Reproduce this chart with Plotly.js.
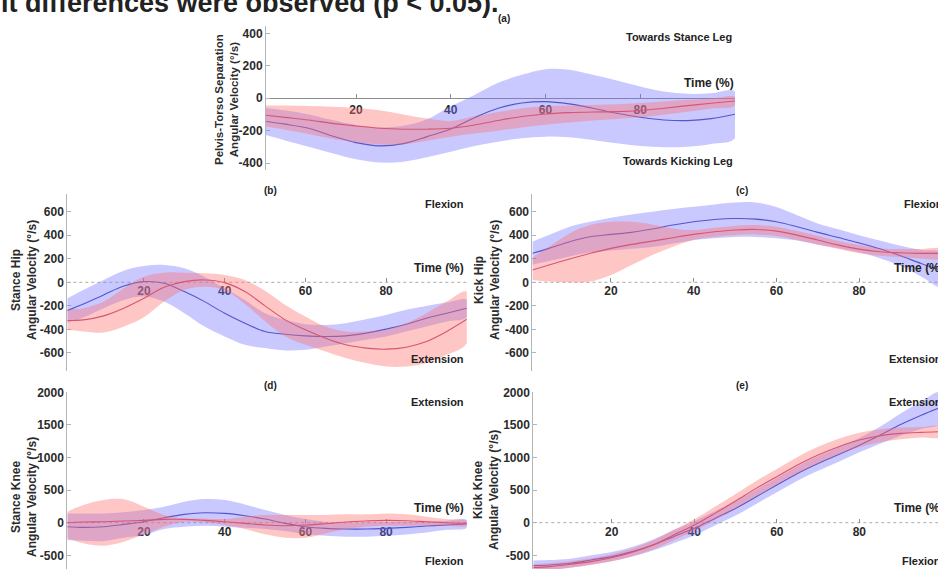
<!DOCTYPE html>
<html>
<head>
<meta charset="utf-8">
<script src="https://cdn.plot.ly/plotly-3.0.1.min.js"></script>
<style>
  html, body { margin: 0; padding: 0; background: #ffffff; overflow: hidden; width: 938px; height: 569px; }
  #chart { width: 950px; height: 600px; }
</style>
</head>
<body>
<div id="chart"></div>
<script>
// ---------- DATA ----------
const timePct = [1, 5, 10, 15, 20, 25, 30, 35, 40, 45, 50, 55, 60, 65, 70, 75, 80, 85, 90, 95, 100];
const xTickVals = [20, 40, 60, 80];
const xTickText = ['20', '40', '60', '80'];

// (a) Pelvis-Torso Separation
const aBlueMean  = [-144, -160, -185, -233, -274, -294, -280, -237, -190, -120, -62, -30, -21, -35, -62, -93, -117, -134, -138, -126, -99];
const aBlueUpper = [-60, -75, -100, -135, -165, -180, -170, -130, -50, 20, 95, 144, 179, 175, 144, 109, 72, 41, 27, 31, 41];
const aBlueLower = [-227, -260, -299, -340, -377, -397, -391, -364, -330, -294, -268, -247, -237, -241, -257, -278, -294, -302, -299, -282, -247];
const aPinkMean  = [-105, -118, -134, -155, -171, -185, -191, -191, -185, -165, -137, -113, -97, -89, -85, -83, -76, -62, -46, -31, -17];
const aPinkUpper = [-45, -45, -48, -52, -60, -75, -100, -125, -140, -112, -85, -62, -50, -45, -42, -38, -30, -20, -10, -2, 8];
const aPinkLower = [-175, -195, -220, -250, -272, -285, -285, -262, -238, -218, -200, -180, -163, -150, -138, -128, -118, -102, -84, -64, -45];
const aTickVals = [-400, -200, 0, 200, 400];
const aTickText = ['-400', '-200', '0', '200', '400'];

// (b) Stance Hip
const bBlueMean  = [-240, -184, -107, -31, 6, -8, -79, -164, -263, -347, -418, -441, -455, -460, -455, -432, -398, -356, -305, -263, -220];
const bBlueUpper = [-136, -65, 20, 99, 138, 147, 119, 48, -51, -150, -263, -319, -356, -362, -347, -314, -277, -234, -201, -172, -150];
const bBlueLower = [-345, -300, -220, -150, -121, -164, -263, -376, -460, -531, -559, -579, -573, -545, -517, -489, -460, -418, -376, -333, -297];
const bPinkMean  = [-325, -319, -285, -220, -136, -42, 6, 20, -3, -79, -200, -319, -404, -475, -531, -559, -568, -551, -503, -418, -314];
const bPinkUpper = [-234, -220, -164, -51, 48, 82, 82, 76, 62, 20, -72, -192, -291, -376, -418, -418, -404, -347, -263, -164, -79];
const bPinkLower = [-404, -418, -427, -376, -297, -164, -65, -37, -65, -184, -330, -460, -531, -588, -644, -686, -715, -715, -686, -616, -517];
const hipTickVals = [-600, -400, -200, 0, 200, 400, 600];
const hipTickText = ['-600', '-400', '-200', '0', '200', '400', '600'];

// (c) Kick Hip
const cBlueMean  = [246, 288, 345, 387, 407, 424, 452, 486, 514, 534, 542, 537, 514, 472, 424, 380, 335, 285, 225, 160, 100];
const cBlueUpper = [345, 401, 472, 514, 548, 576, 599, 622, 641, 661, 678, 678, 640, 570, 500, 450, 400, 355, 310, 275, 250];
const cBlueLower = [150, 180, 220, 255, 270, 285, 300, 330, 360, 375, 385, 385, 375, 355, 320, 290, 255, 205, 140, 50, -40];
const cPinkMean  = [105, 147, 198, 246, 288, 322, 350, 379, 407, 429, 444, 449, 435, 401, 359, 316, 282, 260, 251, 246, 246];
const cPinkUpper = [209, 302, 415, 486, 514, 514, 492, 458, 444, 463, 480, 486, 472, 435, 396, 350, 316, 288, 282, 282, 282];
const cPinkLower = [20, 6, 0, 6, 62, 147, 232, 302, 359, 387, 401, 407, 393, 359, 322, 282, 246, 226, 215, 203, 203];

// (d) Stance Knee
const dBlueMean  = [-61, -72, -61, -26, 15, 77, 128, 153, 143, 107, 56, -10, -61, -87, -97, -97, -87, -72, -51, -36, -20];
const dBlueUpper = [143, 143, 143, 160, 194, 245, 322, 363, 348, 281, 194, 118, 56, 15, 5, 8, 12, 15, 20, 30, 41];
const dBlueLower = [-266, -275, -281, -230, -189, -97, -61, -46, -61, -77, -97, -128, -179, -199, -215, -215, -200, -180, -150, -110, -77];
const dPinkMean  = [0, 10, 15, 26, 36, 51, 51, 36, 15, -10, -36, -46, -36, -15, 10, 26, 36, 31, 15, 0, -10];
const dPinkUpper = [169, 271, 348, 358, 245, 118, 66, 66, 56, 92, 118, 118, 118, 118, 128, 128, 143, 128, 92, 56, 26];
const dPinkLower = [-240, -317, -353, -291, -179, -61, 15, 5, -36, -97, -179, -230, -230, -164, -97, -61, -46, -46, -46, -46, -46];
const kneeTickVals = [-500, 0, 500, 1000, 1500, 2000];
const kneeTickText = ['-500', '0', '500', '1000', '1500', '2000'];

// (e) Kick Knee
const eBlueMean  = [-658, -648, -622, -571, -520, -444, -342, -214, -87, 66, 219, 398, 577, 755, 908, 1046, 1189, 1342, 1505, 1648, 1776];
const eBlueUpper = [-578, -573, -552, -501, -450, -369, -257, -114, 23, 176, 329, 508, 687, 865, 1018, 1156, 1299, 1472, 1675, 1858, 2016];
const eBlueLower = [-738, -723, -692, -641, -590, -519, -427, -314, -197, -44, 109, 288, 467, 645, 798, 936, 1079, 1212, 1335, 1438, 1536];
const ePinkMean  = [-688, -673, -638, -597, -537, -454, -342, -189, -36, 143, 332, 526, 705, 884, 1038, 1166, 1268, 1334, 1370, 1386, 1396];
const ePinkUpper = [-638, -623, -588, -547, -482, -394, -272, -109, 54, 243, 442, 641, 825, 1009, 1163, 1286, 1378, 1434, 1460, 1466, 1476];
const ePinkLower = [-738, -723, -688, -647, -592, -514, -412, -269, -126, 43, 222, 411, 585, 759, 913, 1046, 1158, 1234, 1280, 1306, 1316];

// Axis titles
const aTitle = 'Pelvis-Torso Separation<br>Angular Velocity (°/s)';
const bTitle = 'Stance Hip<br>Angular Velocity (°/s)';
const cTitle = 'Kick Hip<br>Angular Velocity (°/s)';
const dTitle = 'Stance Knee<br>Angular Velocity (°/s)';
const eTitle = 'Kick Knee<br>Angular Velocity (°/s)';

// ---------- STYLE ----------
const W = 950, H = 600;
const fx = px => px / W;
const fy = py => 1 - py / H;
const FONT = 'Liberation Sans, Arial, Helvetica, sans-serif';
const BLUE_FILL = 'rgba(112,112,255,0.38)';
const PINK_FILL = 'rgba(255,112,112,0.40)';
const BLUE_LINE = 'rgb(85,85,205)';
const PINK_LINE = 'rgb(215,85,115)';

function band(upper, lower, fill, ax) {
  return {
    x: timePct.concat(timePct.slice().reverse()),
    y: upper.concat(lower.slice().reverse()),
    type: 'scatter', mode: 'lines', fill: 'toself', fillcolor: fill,
    line: { width: 0, shape: 'spline', smoothing: 1 },
    xaxis: 'x' + ax, yaxis: 'y' + ax, hoverinfo: 'skip', showlegend: false
  };
}
function meanLine(mean, color, ax) {
  return {
    x: timePct, y: mean, type: 'scatter', mode: 'lines',
    line: { color: color, width: 1.1, shape: 'spline', smoothing: 1 },
    xaxis: 'x' + ax, yaxis: 'y' + ax, hoverinfo: 'skip', showlegend: false
  };
}
function panel(ax, bu, bl, bm, pu, pl, pm) {
  return [band(bu, bl, BLUE_FILL, ax), meanLine(bm, BLUE_LINE, ax),
          band(pu, pl, PINK_FILL, ax), meanLine(pm, PINK_LINE, ax)];
}

const data = [].concat(
  panel('', aBlueUpper, aBlueLower, aBlueMean, aPinkUpper, aPinkLower, aPinkMean),
  panel('2', bBlueUpper, bBlueLower, bBlueMean, bPinkUpper, bPinkLower, bPinkMean),
  panel('3', cBlueUpper, cBlueLower, cBlueMean, cPinkUpper, cPinkLower, cPinkMean),
  panel('4', dBlueUpper, dBlueLower, dBlueMean, dPinkUpper, dPinkLower, dPinkMean),
  panel('5', eBlueUpper, eBlueLower, eBlueMean, ePinkUpper, ePinkLower, ePinkMean)
);

const tickFont = { family: FONT, size: 12, color: '#2b2b2b', weight: 'bold' };
function xAxis(x0, x1, zeroPy, showLine) {
  return {
    domain: [fx(x0), fx(x1)], range: [1, 100], anchor: 'free', position: fy(zeroPy),
    tickmode: 'array', tickvals: xTickVals, ticktext: xTickText,
    showline: showLine, linecolor: '#8c8c8c', linewidth: 1,
    ticks: 'inside', ticklen: 4, tickcolor: '#8c8c8c', tickwidth: 1,
    tickfont: tickFont, showgrid: false, zeroline: false, automargin: false,
    layer: 'below traces', fixedrange: true
  };
}
function yAxis(anchor, top, bottom, range, tv, tt) {
  return {
    domain: [fy(bottom), fy(top)], range: range, anchor: anchor,
    tickmode: 'array', tickvals: tv, ticktext: tt,
    showline: true, linecolor: '#b5b5b5', linewidth: 1,
    ticks: 'inside', ticklen: 4, tickcolor: '#b5b5b5', tickwidth: 1,
    tickfont: tickFont, showgrid: false, zeroline: false, automargin: false,
    layer: 'below traces', fixedrange: true
  };
}

function ann(text, px, py, size, xanchor) {
  return {
    text: '<b>' + text + '</b>', xref: 'paper', yref: 'paper',
    x: fx(px), y: fy(py), xanchor: xanchor, yanchor: 'middle',
    showarrow: false, font: { family: FONT, size: size, color: '#222222' }
  };
}
function yTitle(text, px, py, size) {
  const a = ann(text, px, py, size, 'center');
  a.textangle = -90;
  a.font.color = '#2b2b2b';
  return a;
}
function zeroShape(ax) {
  return {
    type: 'line', xref: 'x' + ax + ' domain', x0: 0, x1: 1, yref: 'y' + ax, y0: 0, y1: 0,
    line: { color: '#ababab', width: 1, dash: 'dot' }, layer: 'below'
  };
}

const layout = {
  width: W, height: H,
  margin: { l: 0, r: 0, t: 0, b: 0, pad: 0 },
  paper_bgcolor: '#ffffff', plot_bgcolor: 'rgba(0,0,0,0)',
  showlegend: false,
  font: { family: FONT, color: '#222222' },
  xaxis:  xAxis(266, 735, 98.3, true),
  yaxis:  yAxis('x', 26, 170.4, [-445, 445], aTickVals, aTickText),
  xaxis2: xAxis(67.3, 466.8, 282.3, false),
  yaxis2: yAxis('x2', 194, 370.6, [-750, 750], hipTickVals, hipTickText),
  xaxis3: xAxis(532.4, 941.8, 282.3, false),
  yaxis3: yAxis('x3', 194, 370.6, [-750, 750], hipTickVals, hipTickText),
  xaxis4: xAxis(67.3, 466.8, 522.7, false),
  yaxis4: yAxis('x4', 392.3, 587.9, [-1000, 2000], kneeTickVals, kneeTickText),
  xaxis5: xAxis(533.3, 941.9, 522.7, false),
  yaxis5: yAxis('x5', 392.3, 587.9, [-1000, 2000], kneeTickVals, kneeTickText),
  shapes: [zeroShape('2'), zeroShape('3'), zeroShape('4'), zeroShape('5')],
  annotations: [
    ann('it differences were observed (p &lt; 0.05).', -1, 3, 27, 'left'),
    yTitle(aTitle, 227, 100, 11.5),
    yTitle(bTitle, 24, 280, 12),
    yTitle(cTitle, 487, 280, 12),
    yTitle(dTitle, 24, 497, 12),
    yTitle(eTitle, 486, 490, 12),
    ann('(a)', 504, 18, 10, 'center'),
    ann('Towards Stance Leg', 734, 37, 11, 'right'),
    ann('Time (%)', 736, 83, 12, 'right'),
    ann('Towards Kicking Leg', 735, 161, 11, 'right'),
    ann('(b)', 270, 190, 10, 'center'),
    ann('Flexion', 466, 204, 11, 'right'),
    ann('Time (%)', 466, 268, 12, 'right'),
    ann('Extension', 466, 359, 11, 'right'),
    ann('(c)', 742, 190, 10, 'center'),
    ann('Flexion', 902, 204, 11, 'left'),
    ann('Time (%)', 892, 268, 12, 'left'),
    ann('Extension', 887, 359, 11, 'left'),
    ann('(d)', 270, 385, 10, 'center'),
    ann('Extension', 466, 402, 11, 'right'),
    ann('Time (%)', 466, 508, 12, 'right'),
    ann('Flexion', 466, 561, 11, 'right'),
    ann('(e)', 742, 385, 10, 'center'),
    ann('Extension', 887, 402, 11, 'left'),
    ann('Time (%)', 892, 508, 12, 'left'),
    ann('Flexion', 900, 561, 11, 'left')
  ]
};

Plotly.newPlot('chart', data, layout, { staticPlot: true, displayModeBar: false });
</script>
</body>
</html>
